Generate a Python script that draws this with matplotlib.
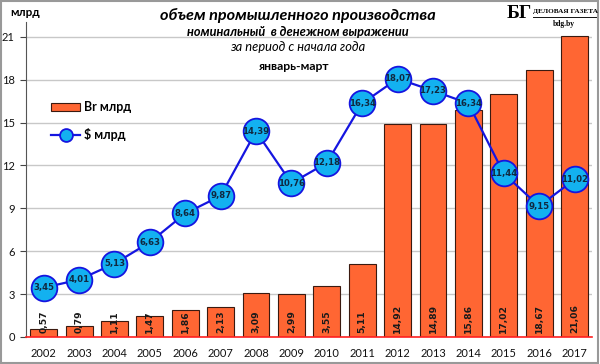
import matplotlib.pyplot as plt
import numpy as np
from matplotlib.patches import Rectangle
from matplotlib.lines import Line2D

years = ['2002', '2003', '2004', '2005', '2006', '2007', '2008', '2009',
         '2010', '2011', '2012', '2013', '2014', '2015', '2016', '2017']
byr = [0.57, 0.79, 1.11, 1.47, 1.86, 2.13, 3.09, 2.99,
       3.55, 5.11, 14.92, 14.89, 15.86, 17.02, 18.67, 21.06]
usd = [3.45, 4.01, 5.13, 6.63, 8.64, 9.87, 14.39, 10.76,
       12.18, 16.34, 18.07, 17.23, 16.34, 11.44, 9.15, 11.02]
yticks = [0, 3, 6, 9, 12, 15, 18, 21]

def fmt(v):
    return f'{v:.2f}'.replace('.', ',')

plt.rcParams['font.family'] = ['Lato', 'DejaVu Sans']
fig = plt.figure(figsize=(6, 3.64), dpi=100)
ax = fig.add_axes([0.0433, 0.0742, 0.9437, 0.864])
x = np.arange(len(years))

bars = ax.bar(x, byr, width=0.76, color='#FF6633', edgecolor='#3a1a10', linewidth=0.8,
              zorder=2, label='Br млрд')
for xi, v in zip(x, byr):
    ax.text(xi, 0.25, fmt(v), rotation=90, ha='center', va='bottom', fontsize=6.6,
            fontweight='bold', family='DejaVu Sans', color='#1a1a1a', zorder=5)

line, = ax.plot(x, usd, color='#1515E0', linewidth=1.6, marker='o', markersize=18.5,
                markerfacecolor='#13B1F0', markeredgecolor='#1515E0', markeredgewidth=1.3,
                zorder=3, label='$ млрд')
for xi, v in zip(x, usd):
    ax.text(xi, v, fmt(v), ha='center', va='center', fontsize=6.1, family='DejaVu Sans',
            fontweight='bold', color='#102840', zorder=6)

ax.set_xlim(-0.5, len(years) - 0.5)
ax.set_ylim(0, 22)
ax.set_yticks(yticks)
ax.set_xticks(x)
ax.set_xticklabels(years)
ax.yaxis.grid(True, color='#c8c8c8', linewidth=1.0, zorder=0)
ax.set_axisbelow(True)
ax.tick_params(axis='both', labelsize=8, colors='#111111')
ax.tick_params(axis='x', length=0, pad=8)
ax.tick_params(axis='y', length=4, width=0.8, color='#444444', pad=4)
for s in ['top', 'right']:
    ax.spines[s].set_visible(False)
ax.spines['left'].set_color('#555555')
ax.spines['bottom'].set_color('#FF2020')
ax.spines['bottom'].set_linewidth(1.2)

ax.legend([bars, line], ['Br млрд', '$ млрд'], loc='upper left',
          bbox_to_anchor=(0.025, 0.785), frameon=False, handlelength=2.3,
          handletextpad=0.3, labelspacing=1.2, markerscale=0.5,
          prop={'weight': 'bold', 'size': 9})

fig.text(0.017, 0.965, 'млрд', fontsize=8.5, fontweight='bold', va='center')
fig.text(0.497, 0.958, 'объем промышленного производства', fontsize=11.7, fontweight='bold',
         style='italic', ha='center', va='center')
fig.text(0.497, 0.912, 'номинальный  в денежном выражении', fontsize=9.2, fontweight='bold',
         style='italic', ha='center', va='center')
fig.text(0.497, 0.871, 'за период с начала года', fontsize=9.3, style='italic',
         ha='center', va='center')
fig.text(0.49, 0.816, 'январь-март', fontsize=8.7, fontweight='bold', ha='center', va='center')
fig.text(0.845, 0.963, 'БГ', fontsize=14, fontweight='bold', family='Liberation Serif',
         ha='left', va='center')
fig.text(0.888, 0.968, 'ДЕЛОВАЯ ГАЗЕТА', fontsize=5.2, fontweight='bold',
         family='Liberation Serif', ha='left', va='center')
fig.lines.append(Line2D([0.888, 0.993], [0.952, 0.952], transform=fig.transFigure,
                        color='#111111', linewidth=0.7))
fig.text(0.94, 0.935, 'bdg.by', fontsize=5.5, fontweight='bold', family='Liberation Serif',
         ha='center', va='center')

fig.patches.append(Rectangle((0.002, 0.003), 0.995, 0.993, transform=fig.transFigure,
                             fill=False, edgecolor='#999999', linewidth=1.5))

fig.savefig('out.png', dpi=100)
